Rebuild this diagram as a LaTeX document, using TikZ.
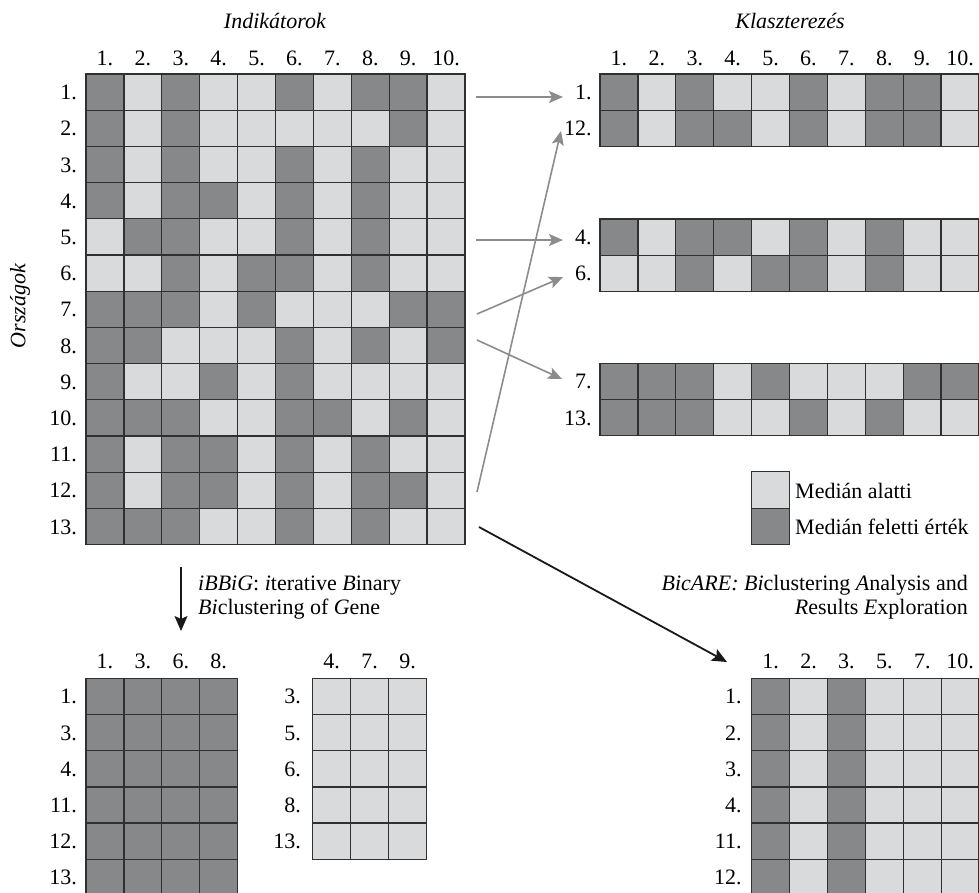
\documentclass[tikz,border=0pt]{standalone}
\usepackage{fontspec}
\setmainfont{Liberation Serif}
\usetikzlibrary{arrows.meta}
\definecolor{cD}{RGB}{135,136,138}
\definecolor{cL}{RGB}{217,218,220}
\definecolor{gridc}{RGB}{48,48,48}
\definecolor{arrowgray}{RGB}{140,140,140}
\definecolor{arrowblack}{RGB}{25,25,25}
\newcommand{\rowcells}[4]{%
  \foreach \v [count=\c] in {#4} {\draw[cellbox, fill=c\v] ({#1+(\c-1)*#3},#2) rectangle ++(#3,36.2);}%
}
\begin{document}
\begin{tikzpicture}[x=1pt,y=-1pt,font=\fontsize{22}{26}\selectfont,
  cellbox/.style={draw=gridc,line width=1.3pt},
  lbl/.style={inner sep=0pt,anchor=base},
  rowlbl/.style={inner sep=0pt,anchor=base east},
  garrow/.style={draw=arrowgray,line width=1.6pt,-{Stealth[length=14pt,width=12pt,inset=3pt]}},
  barrow/.style={draw=arrowblack,line width=1.8pt,-{Stealth[length=15pt,width=13pt,inset=3pt]}}]
\useasboundingbox (0,0) rectangle (979,892);
\clip (0,0) rectangle (979,892);

% titles
\node[lbl] (tind) at (275,28) {\textit{Indikátorok}};
\node[lbl] (tkl) at (790,28) {\textit{Klaszterezés}};
\node[rotate=90,inner sep=0pt] (torsz) at (20,306) {\textit{Országok}};

% main matrix
\rowcells{86}{74.0}{37.9}{D,L,D,L,L,D,L,D,D,L}
\rowcells{86}{110.2}{37.9}{D,L,D,L,L,L,L,L,D,L}
\rowcells{86}{146.4}{37.9}{D,L,D,L,L,D,L,D,L,L}
\rowcells{86}{182.6}{37.9}{D,L,D,D,L,D,L,D,L,L}
\rowcells{86}{218.8}{37.9}{L,D,D,L,L,D,L,D,L,L}
\rowcells{86}{255.0}{37.9}{L,L,D,L,D,D,L,D,L,L}
\rowcells{86}{291.2}{37.9}{D,D,D,L,D,L,L,L,D,D}
\rowcells{86}{327.4}{37.9}{D,D,L,L,L,D,L,D,L,D}
\rowcells{86}{363.6}{37.9}{D,L,L,D,L,D,L,L,L,L}
\rowcells{86}{399.8}{37.9}{D,D,D,L,L,D,D,L,D,L}
\rowcells{86}{436.0}{37.9}{D,L,D,D,L,D,L,D,L,L}
\rowcells{86}{472.2}{37.9}{D,L,D,D,L,D,L,D,D,L}
\rowcells{86}{508.4}{37.9}{D,D,D,L,L,D,L,D,L,L}
\foreach \r in {1,...,13} \node[rowlbl] (mr\r) at (77,{74+(\r-0.5)*36.2+7.5}) {\r.};
\foreach \c in {1,...,10} \node[lbl] (mc\c) at ({86+(\c-0.5)*37.9},65) {\c.};

% right clusters
\rowcells{600}{74.0}{37.9}{D,L,D,L,L,D,L,D,D,L}
\rowcells{600}{110.2}{37.9}{D,L,D,D,L,D,L,D,D,L}
\rowcells{600}{219.0}{37.9}{D,L,D,D,L,D,L,D,L,L}
\rowcells{600}{255.2}{37.9}{L,L,D,L,D,D,L,D,L,L}
\rowcells{600}{363.3}{37.9}{D,D,D,L,D,L,L,L,D,D}
\rowcells{600}{399.5}{37.9}{D,D,D,L,L,D,L,D,L,L}
\foreach \c in {1,...,10} \node[lbl] (kc\c) at ({600+(\c-0.5)*37.9},65) {\c.};
\node[rowlbl] (kr1) at (591.7,99.6) {1.};
\node[rowlbl] (kr12) at (591.7,135.8) {12.};
\node[rowlbl] (kr4) at (591.7,244.6) {4.};
\node[rowlbl] (kr6) at (591.7,280.8) {6.};
\node[rowlbl] (kr7) at (591.7,388.9) {7.};
\node[rowlbl] (kr13) at (591.7,425.1) {13.};

% legend
\draw[cellbox,fill=cL] (751.7,471.7) rectangle (789.3,508.3);
\draw[cellbox,fill=cD] (751.7,508.3) rectangle (789.3,544.3);
\node[inner sep=0pt,anchor=base west] (lg1) at (795,498.3) {Medián alatti};
\node[inner sep=0pt,anchor=base west] (lg2) at (795,534.3) {Medián feletti érték};

% iBBiG
\node[inner sep=0pt,anchor=base west] (ib1) at (198,590.7) {\textit{iBBiG}: \textit{i}terative \textit{B}inary};
\node[inner sep=0pt,anchor=base west] (ib2) at (198,614) {\textit{Bi}clustering of \textit{G}ene};
\foreach \y [count=\k] in {678.3,714.5,750.7,786.9,823.1,859.3} {\rowcells{86}{\y}{37.9}{D,D,D,D}}
\foreach \t [count=\k] in {1,3,4,11,12,13} \node[rowlbl] (bl\k) at (77,{678.3+(\k-0.5)*36.2+7.5}) {\t.};
\foreach \t [count=\k] in {1,3,6,8} \node[lbl] (blc\k) at ({86+(\k-0.5)*37.9},668) {\t.};
\foreach \y [count=\k] in {678.3,714.5,750.7,786.9,823.1} {\rowcells{312.7}{\y}{38}{L,L,L}}
\foreach \t [count=\k] in {3,5,6,8,13} \node[rowlbl] (bm\k) at (301,{678.3+(\k-0.5)*36.2+7.5}) {\t.};
\foreach \t [count=\k] in {4,7,9} \node[lbl] (bmc\k) at ({312.7+(\k-0.5)*38},668) {\t.};

% BicARE
\node[inner sep=0pt,anchor=base east] (bc1) at (968,590.7) {\textit{BicARE: Bi}clustering \textit{A}nalysis and};
\node[inner sep=0pt,anchor=base east] (bc2) at (968,614) {\textit{R}esults \textit{E}xploration};
\foreach \y [count=\k] in {678.3,714.5,750.7,786.9,823.1,859.3} {\rowcells{751.7}{\y}{37.9}{D,L,D,L,L,L}}
\foreach \t [count=\k] in {1,2,3,4,11,12} \node[rowlbl] (br\k) at (741.7,{678.3+(\k-0.5)*36.2+7.5}) {\t.};
\foreach \t [count=\k] in {1,2,3,5,7,10} \node[lbl] (brc\k) at ({751.7+(\k-0.5)*37.9},668) {\t.};

% arrows
\coordinate (g1s) at (476,97);   \coordinate (g1e) at (563,97);
\coordinate (g2s) at (476,240);  \coordinate (g2e) at (563,240);
\coordinate (g3s) at (477,314);  \coordinate (g3e) at (563,277);
\coordinate (g4s) at (477,340);  \coordinate (g4e) at (562,379);
\coordinate (g5s) at (477,492);  \coordinate (g5e) at (561,131);
\coordinate (bds) at (181,567);  \coordinate (bde) at (181,631);
\coordinate (bbs) at (479,527);  \coordinate (bbe) at (727,662);
\draw[garrow] (g1s) -- (g1e);
\draw[garrow] (g2s) -- (g2e);
\draw[garrow] (g3s) -- (g3e);
\draw[garrow] (g4s) -- (g4e);
\draw[garrow] (g5s) -- (g5e);
\draw[barrow] (bds) -- (bde);
\draw[barrow] (bbs) -- (bbe);
\end{tikzpicture}
\end{document}
